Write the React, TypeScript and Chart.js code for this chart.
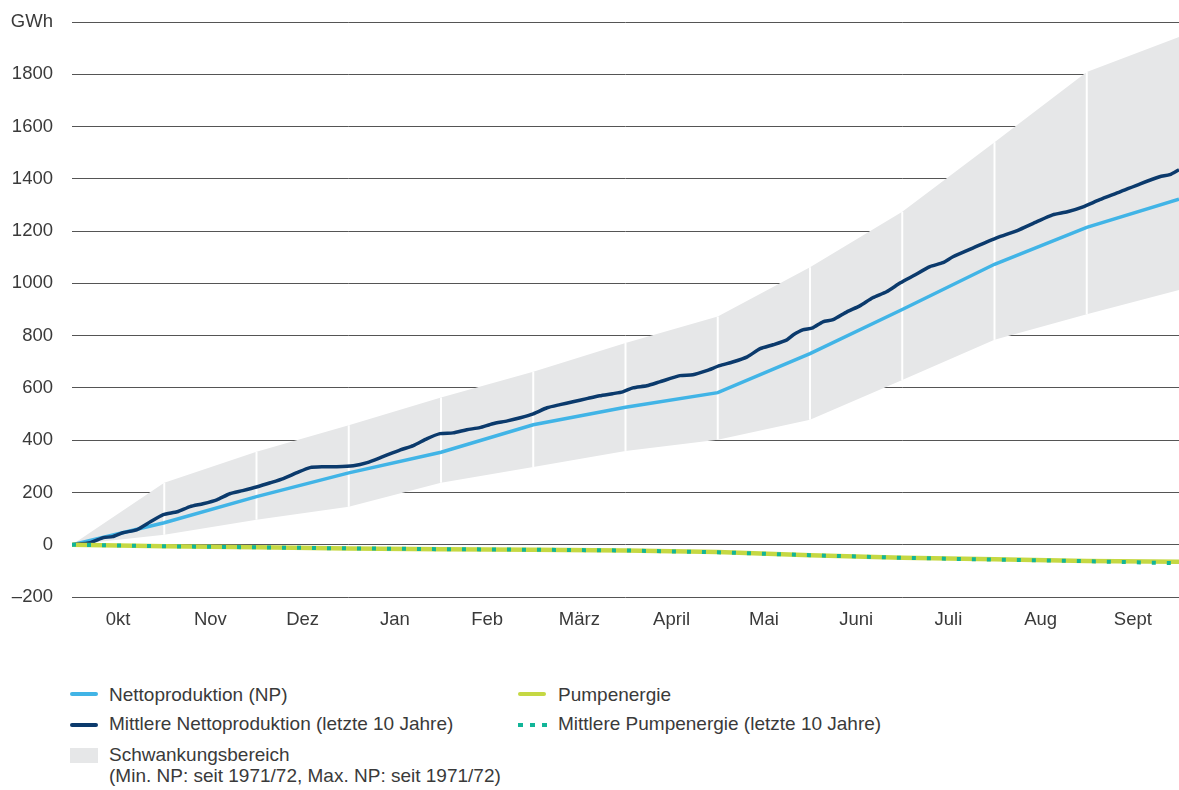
import React, { useEffect, useRef } from "react";
import { Chart, registerables } from "chart.js";

Chart.register(...registerables);

// Month labels (x axis, centred on each month)
const monthLabels = ["0kt", "Nov", "Dez", "Jan", "Feb", "März", "April", "Mai", "Juni", "Juli", "Aug", "Sept"];
// Month boundaries (0 = 1 Oct ... 12 = 30 Sept)
const boundaries = [0, 1, 2, 3, 4, 5, 6, 7, 8, 9, 10, 11, 12];

// Nettoproduktion (NP), cumulative GWh at month boundaries
const npValues = [0, 84, 184, 275, 354, 459, 526, 582, 731, 900, 1073, 1214, 1322];

// Schwankungsbereich (min / max NP) at month boundaries
const bandMax = [0, 237, 356, 457, 563, 662, 772, 873, 1062, 1274, 1540, 1809, 1943];
const bandMin = [0, 38, 96, 145, 237, 297, 359, 402, 478, 630, 784, 882, 975];

// Pumpenergie at month boundaries
const pumpValues = [0, -6, -10, -14, -17, -19, -22, -28, -40, -50, -56, -62, -65];
const meanPumpValues = [0, -6, -10, -14, -17, -19, -22, -29, -40, -50, -57, -63, -71];

// Mittlere Nettoproduktion (letzte 10 Jahre): position in months, value in GWh
const meanNpMonth = [
  0.0, 0.2, 0.34, 0.44, 0.55, 0.7, 0.85, 0.99, 1.14, 1.28, 1.42, 1.57, 1.71, 1.85, 2.01, 2.15, 2.29, 2.44,
  2.58, 2.72, 2.87, 3.05, 3.2, 3.37, 3.56, 3.7, 3.85, 3.99, 4.13, 4.28, 4.42, 4.56, 4.72, 4.86, 5.0, 5.15,
  5.29, 5.43, 5.58, 5.72, 5.86, 5.97, 6.08, 6.23, 6.37, 6.59, 6.73, 6.88, 7.02, 7.17, 7.32, 7.46, 7.6, 7.75,
  7.82, 7.92, 8.03, 8.14, 8.25, 8.4, 8.54, 8.68, 8.83, 8.98, 9.12, 9.3, 9.44, 9.55, 9.77, 10.03, 10.24,
  10.46, 10.63, 10.79, 10.96, 11.14, 11.36, 11.58, 11.79, 11.9, 12.0,
];
const meanNpValue = [
  0, 8, 27, 31, 46, 57, 88, 115, 126, 146, 157, 172, 195, 207, 222, 237, 253, 276,
  295, 298, 298, 302, 314, 337, 363, 379, 406, 425, 428, 440, 448, 463, 474, 486, 501, 524,
  536, 547, 559, 570, 578, 585, 600, 608, 623, 647, 650, 666, 685, 700, 719, 750, 765, 784,
  803, 822, 830, 853, 861, 891, 914, 945, 968, 1002, 1029, 1064, 1079, 1102, 1136, 1175, 1201,
  1236, 1262, 1274, 1293, 1320, 1350, 1381, 1408, 1416, 1435,
];

// y axis
const yMin = -200;
const yMax = 2000;
const yStep = 200;
const yUnit = "GWh";

const COLORS = {
  np: "#41b4e6",
  meanNp: "#0b3a6c",
  pump: "#c5d843",
  meanPump: "#12b598",
  band: "#e6e7e8",
  grid: "#555555",
  text: "#3a3a3a",
};

const FONT = "'Liberation Sans', Arial, sans-serif";
const TICK_SIZE = 18.5;
const LEGEND_SIZE = 19;

const toXY = (xs: number[], ys: number[]) => xs.map((x, i) => ({ x, y: ys[i] }));

const separatorPlugin = {
  id: "bandSeparators",
  afterDatasetDraw(chart: any, args: any) {
    if (args.index !== 4) return;
    const { ctx, scales } = chart;
    const xs = scales.x;
    const ys = scales.y;
    ctx.save();
    ctx.strokeStyle = "#ffffff";
    ctx.lineWidth = 2;
    for (let i = 1; i < boundaries.length - 1; i++) {
      const px = xs.getPixelForValue(boundaries[i]);
      ctx.beginPath();
      ctx.moveTo(px, ys.getPixelForValue(bandMin[i]));
      ctx.lineTo(px, ys.getPixelForValue(bandMax[i]));
      ctx.stroke();
    }
    ctx.restore();
  },
};

function ChartCanvas() {
  const ref = useRef<HTMLCanvasElement | null>(null);
  useEffect(() => {
    if (!ref.current) return;
    const chart = new Chart(ref.current, {
      type: "line",
      data: {
        datasets: [
          {
            label: "Mittlere Pumpenergie (letzte 10 Jahre)",
            data: toXY(boundaries, meanPumpValues),
            borderColor: COLORS.meanPump,
            borderWidth: 4,
            borderDash: [4, 11],
            borderCapStyle: "butt",
            pointRadius: 0,
            tension: 0,
            fill: false,
          },
          {
            label: "Pumpenergie",
            data: toXY(boundaries, pumpValues),
            borderColor: COLORS.pump,
            borderWidth: 4.5,
            pointRadius: 0,
            tension: 0,
            fill: false,
          },
          {
            label: "Mittlere Nettoproduktion (letzte 10 Jahre)",
            data: toXY(meanNpMonth, meanNpValue),
            borderColor: COLORS.meanNp,
            borderWidth: 3.5,
            pointRadius: 0,
            tension: 0.2,
            fill: false,
          },
          {
            label: "Nettoproduktion (NP)",
            data: toXY(boundaries, npValues),
            borderColor: COLORS.np,
            borderWidth: 3.5,
            pointRadius: 0,
            tension: 0,
            fill: false,
          },
          {
            label: "Max",
            data: toXY(boundaries, bandMax),
            borderWidth: 0,
            borderColor: "rgba(0,0,0,0)",
            backgroundColor: COLORS.band,
            pointRadius: 0,
            tension: 0,
            fill: "+1",
          },
          {
            label: "Min",
            data: toXY(boundaries, bandMin),
            borderWidth: 0,
            borderColor: "rgba(0,0,0,0)",
            pointRadius: 0,
            tension: 0,
            fill: false,
          },
        ],
      },
      options: {
        responsive: false,
        animation: false,
        layout: { padding: { top: 22, left: 0, right: 0, bottom: 0 } },
        plugins: {
          legend: { display: false },
          tooltip: { enabled: false },
        },
        scales: {
          x: {
            type: "linear",
            min: 0,
            max: 12,
            grid: { display: false, drawTicks: false },
            border: { display: false },
            afterBuildTicks: (scale: any) => {
              scale.ticks = monthLabels.map((_, i) => ({ value: i + 0.5 }));
            },
            afterFit: (scale: any) => {
              scale.height = 53;
              scale.paddingLeft = 0;
              scale.paddingRight = 0;
            },
            ticks: {
              autoSkip: false,
              maxRotation: 0,
              padding: 12,
              color: COLORS.text,
              font: { family: FONT, size: TICK_SIZE },
              callback: (_v: any, i: number) => monthLabels[i],
            },
          },
          y: {
            min: yMin,
            max: yMax,
            grid: { color: COLORS.grid, lineWidth: 1, drawTicks: false },
            border: { display: false },
            afterFit: (scale: any) => {
              scale.width = 72;
              scale.paddingTop = 0;
              scale.paddingBottom = 0;
            },
            ticks: {
              stepSize: yStep,
              padding: 19,
              color: COLORS.text,
              font: { family: FONT, size: TICK_SIZE },
              callback: (v: any) => {
                const n = Number(v);
                if (n === yMax) return yUnit;
                if (n < 0) return "\u2013" + Math.abs(n);
                return String(n);
              },
            },
          },
        },
      },
      plugins: [separatorPlugin],
    });
    return () => chart.destroy();
  }, []);
  return <canvas ref={ref} width={1179} height={650} style={{ display: "block" }} />;
}

const legendText: React.CSSProperties = {
  position: "absolute",
  fontFamily: FONT,
  fontSize: LEGEND_SIZE,
  color: COLORS.text,
  lineHeight: "21px",
  whiteSpace: "nowrap",
};

function LineSwatch({ left, top, color }: { left: number; top: number; color: string }) {
  return <div style={{ position: "absolute", left, top, width: 28, height: 4, background: color, borderRadius: 2 }} />;
}

function DotSwatch({ left, top, color }: { left: number; top: number; color: string }) {
  return (
    <div style={{ position: "absolute", left, top, width: 29, height: 4 }}>
      {[0, 1, 2].map((i) => (
        <div key={i} style={{ position: "absolute", left: i * 12, top: 0, width: 5, height: 4, background: color }} />
      ))}
    </div>
  );
}

export default function App() {
  return (
    <div style={{ position: "absolute", left: 0, top: 0, width: 1179, height: 790, background: "#fff" }}>
      <ChartCanvas />
      <LineSwatch left={70} top={692} color={COLORS.np} />
      <div style={{ ...legendText, left: 109, top: 684 }}>Nettoproduktion (NP)</div>
      <LineSwatch left={70} top={723} color={COLORS.meanNp} />
      <div style={{ ...legendText, left: 109, top: 713 }}>Mittlere Nettoproduktion (letzte 10 Jahre)</div>
      <div style={{ position: "absolute", left: 70, top: 748, width: 28, height: 15, background: COLORS.band }} />
      <div style={{ ...legendText, left: 109, top: 744 }}>
        Schwankungsbereich
        <br />
        (Min. NP: seit 1971/72, Max. NP: seit 1971/72)
      </div>
      <LineSwatch left={518} top={692} color={COLORS.pump} />
      <div style={{ ...legendText, left: 558, top: 684 }}>Pumpenergie</div>
      <DotSwatch left={518} top={723} color={COLORS.meanPump} />
      <div style={{ ...legendText, left: 558, top: 713 }}>Mittlere Pumpenergie (letzte 10 Jahre)</div>
    </div>
  );
}
